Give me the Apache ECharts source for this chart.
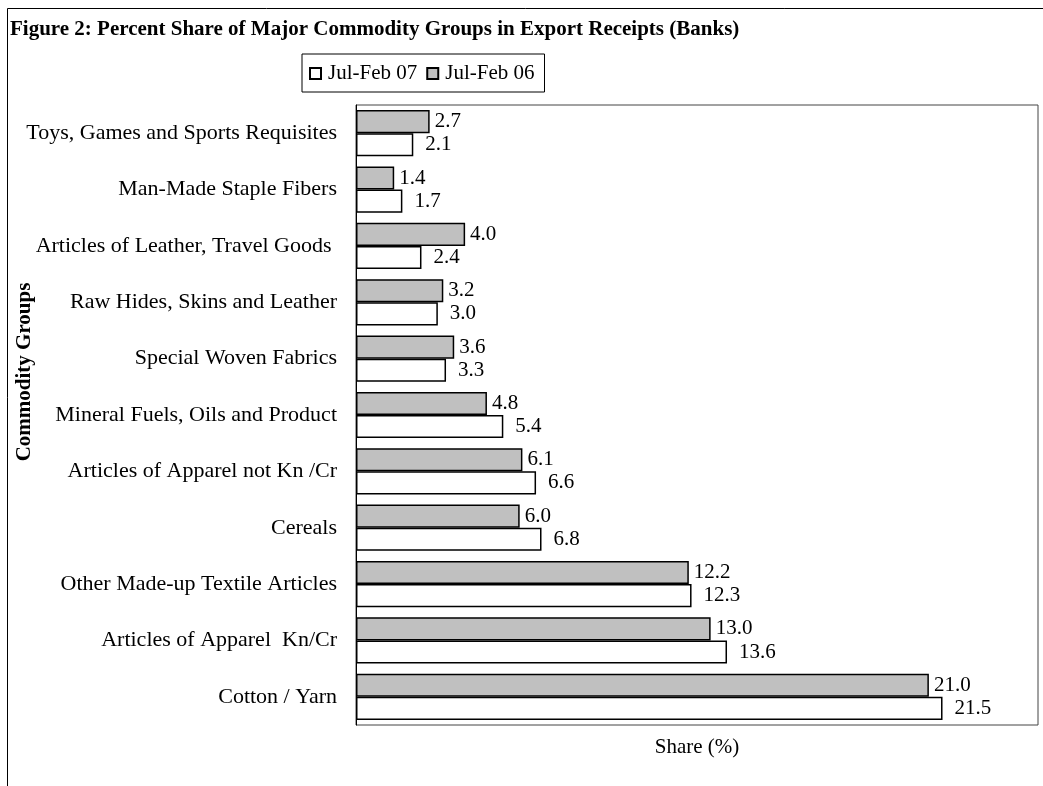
<!DOCTYPE html>
<html>
<head>
<meta charset="utf-8">
<script src="https://cdn.jsdelivr.net/npm/echarts@6/dist/echarts.min.js"></script>
<style>
  html, body { margin: 0; padding: 0; background: #fff; }
  #chart { width: 1043px; height: 786px; }
</style>
</head>
<body>
<div id="chart"></div>
<script>
// commodity groups, listed top to bottom as in the figure
var groups = [
  'Toys, Games and Sports Requisites',
  'Man-Made Staple Fibers',
  'Articles of Leather, Travel Goods ',
  'Raw Hides, Skins and Leather',
  'Special Woven Fabrics',
  'Mineral Fuels, Oils and Product',
  'Articles of Apparel not Kn /Cr',
  'Cereals',
  'Other Made-up Textile Articles',
  'Articles of Apparel  Kn/Cr',
  'Cotton / Yarn'
];
var julFeb06 = [2.7, 1.4, 4.0, 3.2, 3.6, 4.8, 6.1, 6.0, 12.2, 13.0, 21.0];
var julFeb07 = [2.1, 1.7, 2.4, 3.0, 3.3, 5.4, 6.6, 6.8, 12.3, 13.6, 21.5];

var serif = "'Liberation Serif', 'Times New Roman', serif";

var chart = echarts.init(document.getElementById('chart'));

function labelOf(dist) {
  return {
    show: true,
    position: 'right',
    distance: dist,
    color: '#000',
    fontFamily: serif,
    fontSize: 21,
    formatter: function (p) { return p.value.toFixed(1); }
  };
}

var option = {
  backgroundColor: '#fff',
  animation: false,
  title: {
    text: 'Figure 2: Percent Share of Major Commodity Groups in Export Receipts (Banks)',
    left: 5,
    top: 14,
    textStyle: { fontFamily: serif, fontSize: 21, fontWeight: 'bold', color: '#000' }
  },
  legend: {
    data: ['Jul-Feb 07', 'Jul-Feb 06'],
    left: 302,
    top: 54,
    padding: [9, 10, 8, 7],
    borderColor: '#000',
    borderWidth: 1,
    itemWidth: 11,
    itemHeight: 11,
    itemGap: 9,
    icon: 'rect',
    textStyle: { fontFamily: serif, fontSize: 21, color: '#000', padding: [0, 0, 0, 2] }
  },
  grid: {
    left: 356,
    right: 5,
    top: 105,
    bottom: 61,
    show: true,
    borderColor: '#444',
    borderWidth: 1
  },
  xAxis: {
    type: 'value',
    min: 0,
    max: 25,
    axisLine: { show: false },
    axisTick: { show: false },
    axisLabel: { show: false },
    splitLine: { show: false },
    name: 'Share (%)',
    nameLocation: 'middle',
    nameGap: 12,
    nameTextStyle: { fontFamily: serif, fontSize: 21, color: '#000' }
  },
  yAxis: {
    type: 'category',
    data: groups,
    inverse: true,
    axisLine: { show: true, lineStyle: { color: '#000', width: 1 } },
    axisTick: { show: false },
    axisLabel: { margin: 19, color: '#000', fontFamily: serif, fontSize: 22 }
  },
  graphic: [
    {
      type: 'rect',
      silent: true,
      shape: { x: 7.5, y: 8.5, width: 1100, height: 900 },
      style: { fill: 'none', stroke: '#000', lineWidth: 1 }
    },
    {
      type: 'text',
      x: 25,
      y: 372,
      rotation: Math.PI / 2,
      style: {
        text: 'Commodity Groups',
        fontFamily: serif,
        fontSize: 21,
        fontWeight: 'bold',
        fill: '#000',
        align: 'center',
        verticalAlign: 'middle'
      }
    }
  ],
  series: [
    {
      name: 'Jul-Feb 06',
      type: 'bar',
      data: julFeb06,
      barGap: '0%',
      barCategoryGap: '18%',
      itemStyle: { color: '#c0c0c0', borderColor: '#000', borderWidth: 1.5 },
      label: labelOf(5)
    },
    {
      name: 'Jul-Feb 07',
      type: 'bar',
      data: julFeb07,
      barGap: '0%',
      barCategoryGap: '18%',
      itemStyle: { color: '#fff', borderColor: '#000', borderWidth: 1.5 },
      label: labelOf(12)
    }
  ]
};

chart.setOption(option);
</script>
</body>
</html>
